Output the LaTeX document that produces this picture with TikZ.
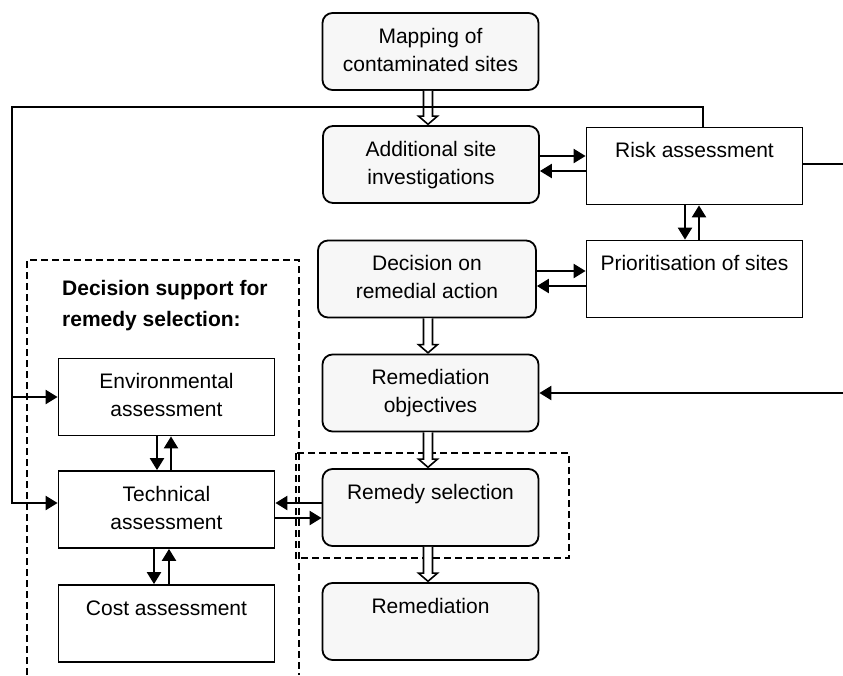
\documentclass[tikz,border=0pt]{standalone}
\usepackage{fontspec}
\setmainfont{Liberation Sans}
\usetikzlibrary{arrows.meta,calc}
\newcommand\twolines[2]{\strut #1\\\strut #2}
\newcommand\hollowarrow[2]{%
  \draw[hollow] let \p1=(spine |- #1.south), \p2=(spine |- #2.north) in
    (\x1-4.5pt,\y1) -- (\x1-4.5pt,\y2+9pt) -- (\x1-9.5pt,\y2+9pt) -- (\x1,\y2+0.8pt)
    -- (\x1+9.5pt,\y2+9pt) -- (\x1+4.5pt,\y2+9pt) -- (\x1+4.5pt,\y1);}
\begin{document}
\begin{tikzpicture}[x=1pt,y=-1pt,
  base/.style={draw=black, line width=1.8pt, minimum width=216pt, minimum height=77pt,
    inner sep=0pt, align=center, font=\fontsize{21}{28}\selectfont, text=black},
  rbox/.style={base, rounded corners=10pt, fill=black!3},
  sbox/.style={base, fill=white},
  conn/.style={line width=2.3pt, -{Triangle[length=12pt,width=14pt]}},
  plain/.style={line width=2.3pt},
  hollow/.style={draw=black, line width=1.6pt, fill=white, line join=miter},
  dashbox/.style={line width=1.4pt, dash pattern=on 7pt off 4pt},
  titletext/.style={font=\bfseries\fontsize{21}{31}\selectfont, align=left, inner sep=0pt, anchor=north west}
]
\useasboundingbox (0,0) rectangle (843,675);

% dashed frames
\draw[dashbox] (27,675) -- (27,260) -- (299,260) -- (299,675);
\draw[dashbox] (296,453) rectangle (569,558);

% boxes
\node[rbox] (map) at (430.5,51.5) {\twolines{Mapping of}{contaminated sites}};
\node[rbox] (add) at (431,164.5) {\twolines{Additional site}{investigations}};
\node[sbox] (risk) at (694.5,166) {\twolines{Risk assessment}{}};
\node[sbox] (prio) at (694.5,279) {\twolines{Prioritisation of sites}{}};
\node[rbox, minimum width=218pt] (dec) at (427,279) {\twolines{Decision on}{remedial action}};
\node[rbox] (obj) at (430.5,393) {\twolines{Remediation}{objectives}};
\node[rbox] (rem) at (430.5,507.5) {\twolines{Remedy selection}{}};
\node[rbox] (remed) at (430.5,621.5) {\twolines{Remediation}{}};
\node[sbox] (env) at (166.5,397) {\twolines{Environmental}{assessment}};
\node[sbox] (tech) at (166.5,509.5) {\twolines{Technical}{assessment}};
\node[sbox] (cost) at (166.5,623.5) {\twolines{Cost assessment}{}};
\node[titletext] (ttl) at (62,280.5) {Decision support for\\remedy selection:};

% helper coordinates
\coordinate (spine) at (428,0);
\coordinate (yA) at (0,156);
\coordinate (yB) at (0,171);
\coordinate (yC) at (0,271);
\coordinate (yD) at (0,286);
\coordinate (yE) at (0,503);
\coordinate (yF) at (0,397);
\coordinate (yG) at (0,518);
\coordinate (xA) at (685,0);
\coordinate (xB) at (699,0);
\coordinate (xC) at (157,0);
\coordinate (xD) at (171,0);
\coordinate (xE) at (154,0);
\coordinate (xF) at (169,0);
\coordinate (c703) at (703,0);
\coordinate (fbTop) at (12,107);
\coordinate (rEdge1) at (843,164);
\coordinate (rEdge2) at (843,393);

% hollow flow arrows
\hollowarrow{map}{add}
\hollowarrow{dec}{obj}
\hollowarrow{obj}{rem}
\hollowarrow{rem}{remed}

% black connectors
\draw[conn] (add.east |- yA) -- (risk.west |- yA);
\draw[conn] (risk.west |- yB) -- (add.east |- yB);
\draw[conn] (risk.south -| xA) -- (prio.north -| xA);
\draw[conn] (prio.north -| xB) -- (risk.south -| xB);
\draw[conn] (dec.east |- yC) -- (prio.west |- yC);
\draw[conn] (prio.west |- yD) -- (dec.east |- yD);
\draw[conn] (env.south -| xC) -- (tech.north -| xC);
\draw[conn] (tech.north -| xD) -- (env.south -| xD);
\draw[conn] (tech.south -| xE) -- (cost.north -| xE);
\draw[conn] (cost.north -| xF) -- (tech.south -| xF);
\draw[conn] (rem.west |- yE) -- (tech.east |- yE);
\draw[conn] (tech.east |- yG) -- (rem.west |- yG);

% feedback loop from risk assessment
\draw[conn] (risk.north -| c703) |- (fbTop) -- (fbTop |- yE) -- (tech.west |- yE);
\draw[conn] (fbTop |- yF) -- (env.west |- yF);

% lines to the right edge
\draw[plain] (risk.east |- rEdge1) -- (rEdge1);
\draw[conn] (rEdge2) -- (obj.east |- rEdge2);
\end{tikzpicture}
\end{document}
